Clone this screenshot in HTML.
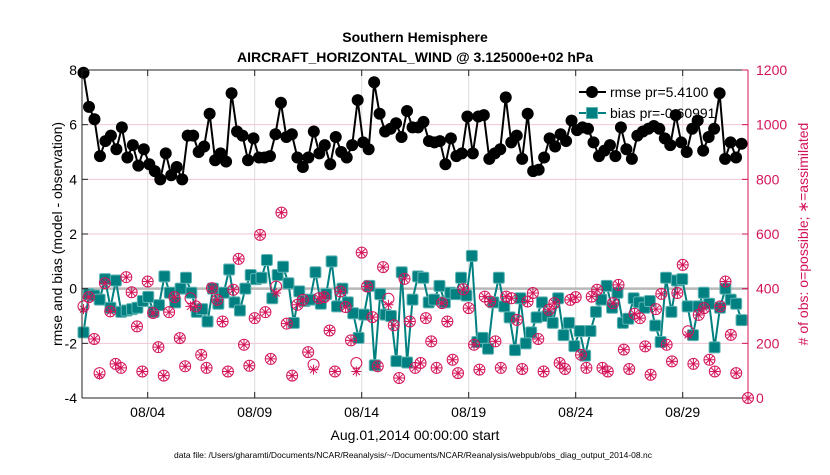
<!DOCTYPE html>
<html><head><meta charset="utf-8"><style>
body{margin:0;background:#fff}
svg text{font-family:"Liberation Sans",sans-serif}
</style></head><body>
<svg id="chart" width="830" height="470" xmlns="http://www.w3.org/2000/svg">
<text x="415" y="42" text-anchor="middle" font-size="14" font-weight="bold">Southern Hemisphere</text>
<text x="415" y="62" text-anchor="middle" font-size="14" font-weight="bold">AIRCRAFT_HORIZONTAL_WIND @ 3.125000e+02 hPa</text>
<text x="415" y="440" text-anchor="middle" font-size="14">Aug.01,2014 00:00:00 start</text>
<text x="413" y="458" text-anchor="middle" font-size="8.5">data file: /Users/gharamti/Documents/NCAR/Reanalysis/~/Documents/NCAR/Reanalysis/webpub/obs_diag_output_2014-08.nc</text>
<text transform="translate(62,234) rotate(-90)" text-anchor="middle" font-size="14">rmse and bias (model - observation)</text>
<text transform="translate(808,234) rotate(-90)" text-anchor="middle" font-size="14" fill="#d4145a"># of obs: o=possible; ∗=assimilated</text>
<g id="grid"></g>
<g id="legend">
<line x1="579" y1="92" x2="606" y2="92" stroke="#000" stroke-width="2"/><circle cx="592" cy="92" r="6" fill="#000"/>
<text x="610" y="97" font-size="14">rmse pr=5.4100</text>
<line x1="579" y1="113" x2="606" y2="113" stroke="#008080" stroke-width="2"/><rect x="586.5" y="107.5" width="11" height="11" fill="#008080" stroke="#5fb3b3"/>
<text x="610" y="118" font-size="14">bias pr=-0.60991</text>
</g>
<g id="marks"></g>
<g id="axes"></g>
</svg>
<script>
const rmse=[7.9,6.65,6.2,4.85,5.4,5.6,5.1,5.9,4.8,5.25,4.5,5.1,4.55,4.3,4.0,4.95,4.15,4.45,4.0,5.6,5.6,5.0,5.2,6.4,4.7,4.95,4.65,7.15,5.75,5.6,4.7,5.5,4.8,4.8,4.85,5.65,6.8,5.55,5.65,4.8,4.45,4.8,5.75,4.95,5.25,4.55,5.55,5.0,4.8,5.25,6.9,5.35,5.1,7.55,6.4,5.75,5.85,6.05,5.55,6.5,5.9,
5.9,6.1,5.4,5.35,5.4,4.55,5.5,4.85,4.95,6.3,4.95,6.3,6.35,4.75,4.95,5.1,7.0,5.35,5.6,4.75,6.4,4.3,4.35,4.8,5.5,5.2,5.65,5.4,6.15,5.8,5.9,5.85,5.35,4.85,5.05,5.25,4.85,5.9,5.1,4.75,5.6,5.75,5.85,5.95,5.85,5.5,5.25,6.35,5.35,5.0,5.85,6.15,5.05,5.55,5.85,7.15,4.75,5.35,4.8,5.3];
const bias=[-1.6,-0.2,-0.25,-0.4,0.35,-0.7,0.3,-0.85,-0.8,-0.75,-0.7,-0.45,-0.3,-0.85,-0.6,0.45,-0.15,-0.5,0,0.4,-0.15,-0.85,-0.75,-1.2,0,-0.55,-0.15,0.7,-0.5,-0.8,0,0.5,0.35,0.4,1.05,-0.35,0.5,0.8,0.2,-1.25,-0.1,-0.45,-0.4,0.6,-0.55,-0.2,1.0,-0.65,0,-0.5,-0.9,-1.8,-0.95,0.1,-2.8,-0.2,-0.95,-1.0,-2.65,0.6,-2.7,-0.4,
0.45,0.4,-0.5,-0.4,0.1,-0.5,-0.15,-0.2,0.4,-0.25,1.2,-1.95,-1.8,-2.2,-0.5,0.4,-0.65,-1.05,-2.25,-0.35,-2.0,-1.6,-1.05,-0.5,-1.0,-1.25,-0.35,-1.7,-1.25,-2.1,-1.55,-2.45,-1.55,-0.85,-0.4,0.1,-0.7,-0.15,-1.25,-1.1,-0.35,-0.5,-0.7,-0.45,-1.35,-1.95,0.4,-0.85,0.3,0.35,-0.65,-1.7,-0.65,-0.15,-0.55,-2.15,-0.7,0,-0.4,-0.55,-1.15];
const obsPossible=[335,369,216,91,420,317,125,110,442,387,262,97,426,311,186,82,314,369,219,116,365,335,158,110,402,359,280,97,396,509,195,118,292,597,314,143,408,678,272,82,341,359,168,122,365,369,247,97,390,333,211,128,532,408,296,116,479,363,266,73,436,280,
110,128,292,207,110,347,280,140,91,398,329,195,104,371,353,207,110,371,365,286,106,353,384,216,97,323,347,128,106,359,369,158,110,371,396,110,97,347,414,177,106,308,292,189,85,325,381,195,134,384,487,244,125,304,329,140,97,335,426,231,91,0];
const obsUsed=[325,369,216,85,420,317,125,110,442,387,262,97,426,311,186,82,314,369,219,116,335,335,158,110,402,359,280,97,396,509,195,118,292,597,314,143,384,678,272,82,341,359,168,104,365,369,247,97,390,333,211,97,532,408,296,116,479,341,266,73,436,280,
110,128,292,207,110,347,280,140,91,398,329,195,104,371,353,207,110,371,365,286,106,353,384,216,97,323,347,128,106,359,369,158,110,371,396,110,97,347,414,177,106,308,292,189,85,325,381,195,134,384,487,231,125,304,329,140,97,335,426,231,91,0];
const xTicks=[3,8,13,18,23,28];
const xTickLabels=["08/04","08/09","08/14","08/19","08/24","08/29"];
const leftTicks=[-4,-2,0,2,4,6,8];
const rightTicks=[0,200,400,600,800,1000,1200];

const L=82,R=748,T=70,B=398,NS="http://www.w3.org/2000/svg";
const xDay=d=>83.5+d*21.4;
const yL=v=>B-(v+4)/12*(B-T);
const yR=v=>B-v/1200*(B-T);
function mk(tag,attrs,parent){const e=document.createElementNS(NS,tag);for(const k in attrs)e.setAttribute(k,attrs[k]);document.getElementById(parent).appendChild(e);return e;}
const span=30.75;
// grid
xTicks.forEach(d=>{const e=mk('line',{x1:xDay(d),x2:xDay(d),y1:T,y2:B,stroke:'#dcdcdc','stroke-width':1},'grid');

});
rightTicks.forEach(v=>{const e=mk('line',{x1:L,x2:R,y1:yR(v),y2:yR(v),stroke:'#f3c6d6','stroke-width':1},'grid');

});
const z=mk('line',{x1:L,x2:R,y1:yL(0),y2:yL(0),stroke:'#b8b8b8','stroke-width':2.5},'grid');


// bias
const bx=i=>xDay(i*span/(bias.length-1));
const bl=mk('polyline',{points:bias.map((v,i)=>bx(i)+','+yL(v)).join(' '),fill:'none',stroke:'#008080','stroke-width':2},'marks');


bias.forEach((v,i)=>{const r=mk('rect',{x:bx(i)-5.5,y:yL(v)-5.5,width:11,height:11,rx:1.5,fill:'#008080',stroke:'#5fb3b3'},'marks');

});
// obs
obsPossible.forEach((v,i)=>{const d=i===obsPossible.length-1?31.05:i*0.25;
const c=mk('circle',{cx:xDay(d),cy:yR(v),r:5.5,fill:'none',stroke:'#d4145a','stroke-width':1},'marks');

});
obsUsed.forEach((v,i)=>{const d=i===obsUsed.length-1?31.05:i*0.25;const x=xDay(d),y=yR(v);
const g=mk('path',{d:`M${x-5} ${y}H${x+5}M${x} ${y-5}V${y+5}M${x-3.5} ${y-3.5}L${x+3.5} ${y+3.5}M${x-3.5} ${y+3.5}L${x+3.5} ${y-3.5}`,stroke:'#d4145a','stroke-width':1},'marks');

});
// rmse
const rx=i=>xDay(i*span/(rmse.length-1));
const rl=mk('polyline',{points:rmse.map((v,i)=>rx(i)+','+yL(v)).join(' '),fill:'none',stroke:'#000','stroke-width':2},'marks');


rmse.forEach((v,i)=>{const c=mk('circle',{cx:rx(i),cy:yL(v),r:6,fill:'#000'},'marks');

});
// axes
mk('line',{x1:L,x2:R,y1:T,y2:T,stroke:'#222'},'axes');
mk('line',{x1:L,x2:R,y1:B,y2:B,stroke:'#222'},'axes');
mk('line',{x1:L,x2:L,y1:T,y2:B,stroke:'#222'},'axes');
mk('line',{x1:R,x2:R,y1:T,y2:B,stroke:'#d4145a'},'axes');
xTicks.forEach((d,i)=>{mk('line',{x1:xDay(d),x2:xDay(d),y1:B,y2:B-6,stroke:'#222'},'axes');mk('line',{x1:xDay(d),x2:xDay(d),y1:T,y2:T+6,stroke:'#222'},'axes');
const t=mk('text',{x:xDay(d),y:B+19,'text-anchor':'middle','font-size':14},'axes');t.textContent=xTickLabels[i];

});
leftTicks.forEach(v=>{mk('line',{x1:L,x2:L+6,y1:yL(v),y2:yL(v),stroke:'#222'},'axes');
const t=mk('text',{x:L-5,y:yL(v)+5,'text-anchor':'end','font-size':14},'axes');t.textContent=v;

});
rightTicks.forEach(v=>{mk('line',{x1:R-6,x2:R,y1:yR(v),y2:yR(v),stroke:'#d4145a'},'axes');
const t=mk('text',{x:R+8,y:yR(v)+5,'font-size':14,fill:'#d4145a'},'axes');t.textContent=v;

});
</script>
</body></html>
